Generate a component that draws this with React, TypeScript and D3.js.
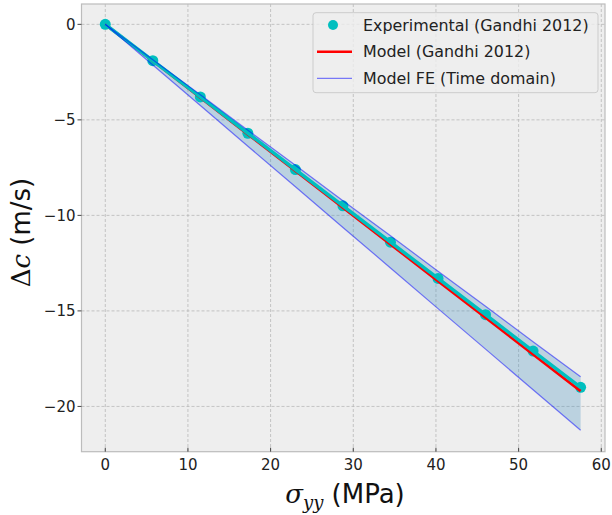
import React from "react";
import * as d3 from "d3";

const stress = [0, 5.75, 11.5, 17.25, 23, 28.75, 34.5, 40.25, 46, 51.75, 57.5];
const experimental = [0, -1.9, -3.8, -5.7, -7.6, -9.5, -11.4, -13.3, -15.2, -17.1, -19.0];
const modelGandhi = [0, -1.92, -3.84, -5.76, -7.68, -9.6, -11.52, -13.44, -15.36, -17.28, -19.2];
const feUpper = [0, -1.85, -3.69, -5.54, -7.38, -9.23, -11.07, -12.92, -14.76, -16.61, -18.45];
const feLower = [0, -2.13, -4.25, -6.38, -8.5, -10.63, -12.75, -14.88, -17.0, -19.13, -21.25];
const xTicks = [0, 10, 20, 30, 40, 50, 60];
const yTicks = [0, -5, -10, -15, -20];
const legendLabels = ["Experimental (Gandhi 2012)", "Model (Gandhi 2012)", "Model FE (Time domain)"];

export default function App() {
  const W = 612, H = 515;
  const left = 81.5, right = 605, top = 4, bottom = 451.7;
  const x = d3.scaleLinear().domain([-2.875, 60.45]).range([left, right]);
  const y = d3.scaleLinear().domain([1.065, -22.37]).range([top, bottom]);
  const idx = stress.map((_, i) => i);
  const line = (vals: number[]) =>
    d3.line<number>().x((i) => x(stress[i])).y((i) => y(vals[i]))(idx) || "";
  const area = d3.area<number>().x((i) => x(stress[i])).y0((i) => y(feLower[i])).y1((i) => y(feUpper[i]))(idx) || "";
  const font = "DejaVu Sans, sans-serif";
  const lx = 313, ly = 12.7;
  return (
    <svg width={W} height={H} style={{ position: "absolute", left: 0, top: 0 }}>
      <rect x={0} y={0} width={W} height={H} fill="#ffffff" />
      <rect x={left} y={top} width={right - left} height={bottom - top} fill="#eeeeee" />
      {xTicks.map((t) => (
        <line key={"gx" + t} x1={x(t)} x2={x(t)} y1={top} y2={bottom} stroke="#b8b8b8" strokeWidth={0.8} strokeDasharray="3,2" />
      ))}
      {yTicks.map((t) => (
        <line key={"gy" + t} x1={left} x2={right} y1={y(t)} y2={y(t)} stroke="#b8b8b8" strokeWidth={0.8} strokeDasharray="3,2" />
      ))}
      <path d={area} fill="#348ABD" fillOpacity={0.27} stroke="none" />
      {stress.map((s, i) => (
        <circle key={"m" + i} cx={x(s)} cy={y(experimental[i])} r={5.5} fill="#00bfbf" />
      ))}
      <path d={line(modelGandhi)} fill="none" stroke="#ff0000" strokeWidth={2.6} />
      <path d={line(experimental)} fill="none" stroke="#00bfbf" strokeWidth={3.5} />
      <path d={line(feUpper)} fill="none" stroke="#0000ff" strokeOpacity={0.5} strokeWidth={1.2} />
      <path d={line(feLower)} fill="none" stroke="#0000ff" strokeOpacity={0.5} strokeWidth={1.2} />
      <rect x={left} y={top} width={right - left} height={bottom - top} fill="none" stroke="#bcbcbc" strokeWidth={1.2} />
      {xTicks.map((t) => (
        <g key={"tx" + t}>
          <line x1={x(t)} x2={x(t)} y1={bottom} y2={bottom - 4} stroke="#444" strokeWidth={1} />
          <text x={x(t)} y={bottom + 18} textAnchor="middle" fontFamily={font} fontSize={15} fill="#222">{t}</text>
        </g>
      ))}
      {yTicks.map((t) => (
        <g key={"ty" + t}>
          <line x1={left} x2={left - 4} y1={y(t)} y2={y(t)} stroke="#444" strokeWidth={1} />
          <text x={left - 6} y={y(t)} dy="0.35em" textAnchor="end" fontFamily={font} fontSize={15} fill="#222">
            {t < 0 ? "\u2212" + Math.abs(t) : String(t)}
          </text>
        </g>
      ))}
      <text x={x(29)} y={503} textAnchor="middle" fontSize={26} fill="#111" fontFamily={font}>
        <tspan fontFamily="DejaVu Serif, serif" fontStyle="italic">σ</tspan>
        <tspan fontFamily="DejaVu Serif, serif" fontStyle="italic" fontSize={18} dy={6}>yy</tspan>
        <tspan dy={-6}> (MPa)</tspan>
      </text>
      <text transform={`translate(30, ${y(-10.9)}) rotate(-90)`} textAnchor="middle" fontSize={26} fill="#111" fontFamily={font}>
        <tspan fontFamily="DejaVu Serif, serif">Δ</tspan>
        <tspan fontFamily="DejaVu Serif, serif" fontStyle="italic">c</tspan>
        <tspan> (m/s)</tspan>
      </text>
      <rect x={lx} y={ly} width={598 - lx} height={80} rx={3} fill="#eeeeee" fillOpacity={0.8} stroke="#cccccc" strokeWidth={1} />
      <circle cx={333} cy={25} r={5} fill="#00bfbf" />
      <line x1={317} x2={352} y1={51.7} y2={51.7} stroke="#ff0000" strokeWidth={2.6} />
      <line x1={317} x2={352} y1={78.3} y2={78.3} stroke="#0000ff" strokeOpacity={0.5} strokeWidth={1.2} />
      {legendLabels.map((l, i) => (
        <text key={l} x={363} y={25 + i * 26.65} dy="0.36em" fontFamily={font} fontSize={15.9} fill="#222">{l}</text>
      ))}
    </svg>
  );
}
